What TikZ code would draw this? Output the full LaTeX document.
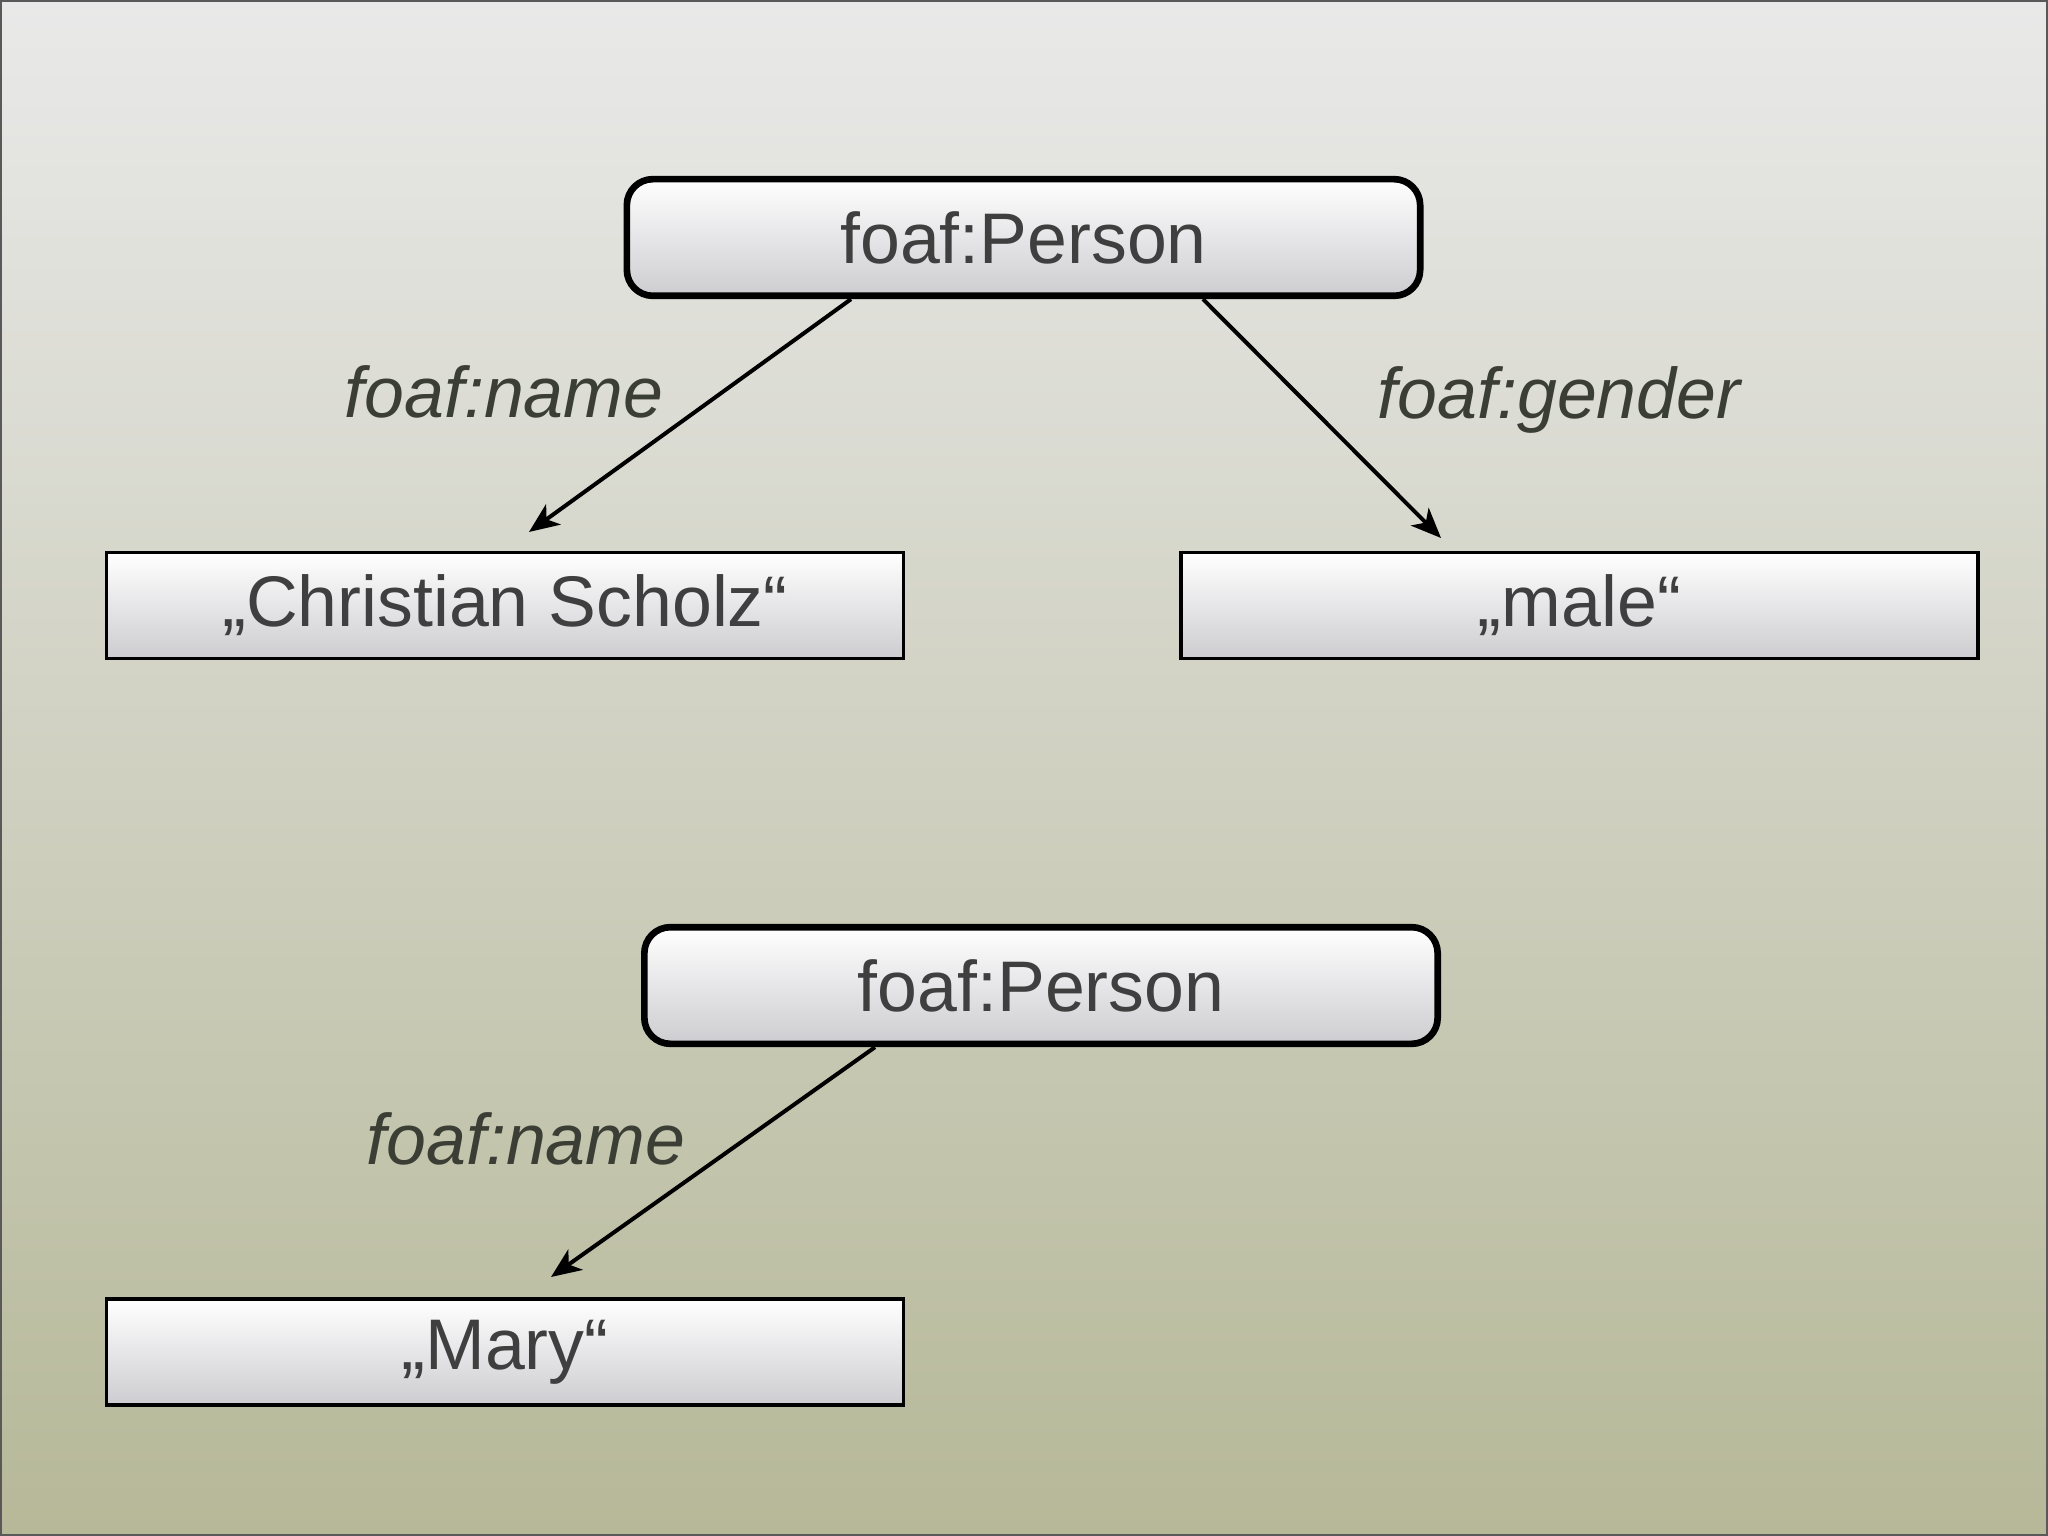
\documentclass[tikz,border=0pt]{standalone}
\usepackage{fontspec}
\setmainfont{Liberation Sans}
\usetikzlibrary{arrows.meta,positioning}
\definecolor{bgtop}{HTML}{E9E9E9}
\definecolor{bgmid}{HTML}{D6D7CB}
\definecolor{bgbot}{HTML}{B6B898}
\definecolor{boxbot}{HTML}{CDCDD1}
\definecolor{labeltext}{HTML}{3B3E34}
\definecolor{boxtext}{HTML}{3F3F3F}
\tikzset{
    %Define standard arrow tip
    >={Stealth[length=9pt,width=7.5pt,inset=2.5pt]},
    %Define style for resource boxes
    resource/.style={
           rectangle,
           rounded corners=7.8pt,
           draw=black, line width=2pt,
           top color=white, bottom color=boxbot,
           minimum width=238pt,
           minimum height=35pt,
           text=boxtext,
           font=\fontsize{21.5}{25}\selectfont},
    literal/.style={
    rectangle,
    draw=black, line width=1.05pt,
    top color=white, bottom color=boxbot,
    minimum width=239pt,
    minimum height=31.7pt,
    text=boxtext,
    font=\fontsize{21.5}{25}\selectfont},
    % Define property label style
    prop/.style={
           font=\fontsize{21.5}{25}\selectfont\itshape,
           text=labeltext},
    % Define arrow style
    pil/.style={
           ->,
           line width=1.2pt}
}
\begin{document}
\begin{tikzpicture}[x=0.3pt,y=-0.3pt]
 \useasboundingbox (0,0) rectangle (2048,1536);
 \fill[top color=bgtop, middle color=bgmid, bottom color=bgbot] (0,0) rectangle (2048,1536);
 \draw[gray!70!black, line width=0.6pt] (1,1) rectangle (2047,1535);

 %nodes
 \node[resource](person1) at (1023.5,237.5){foaf:Person};
 \node[literal](name1) at (505,605.5){„Christian Scholz“};
 \node[literal](gender1) at (1579.5,605.5){„male“};
 \node[resource](person2) at (1041,985.5){foaf:Person};
 \node[literal](name2) at (505,1352){„Mary“};

 \coordinate (tip1) at (529,532);
 \coordinate (tip2) at (1441,538);
 \coordinate (tip3) at (551,1277);

 %edges
 \draw[pil] ([xshift=-51.75pt]person1.south) -- (tip1);
 \draw[pil] ([xshift=53.85pt]person1.south) -- (tip2);
 \draw[pil] ([xshift=-49.8pt]person2.south) -- (tip3);

 %labels
 \node[prop](lname1) at (504,392){foaf:name};
 \node[prop](lgender1) at (1559,400){foaf:gender};
 \node[prop](lname2) at (526,1139){foaf:name};

\end{tikzpicture}
\end{document}
